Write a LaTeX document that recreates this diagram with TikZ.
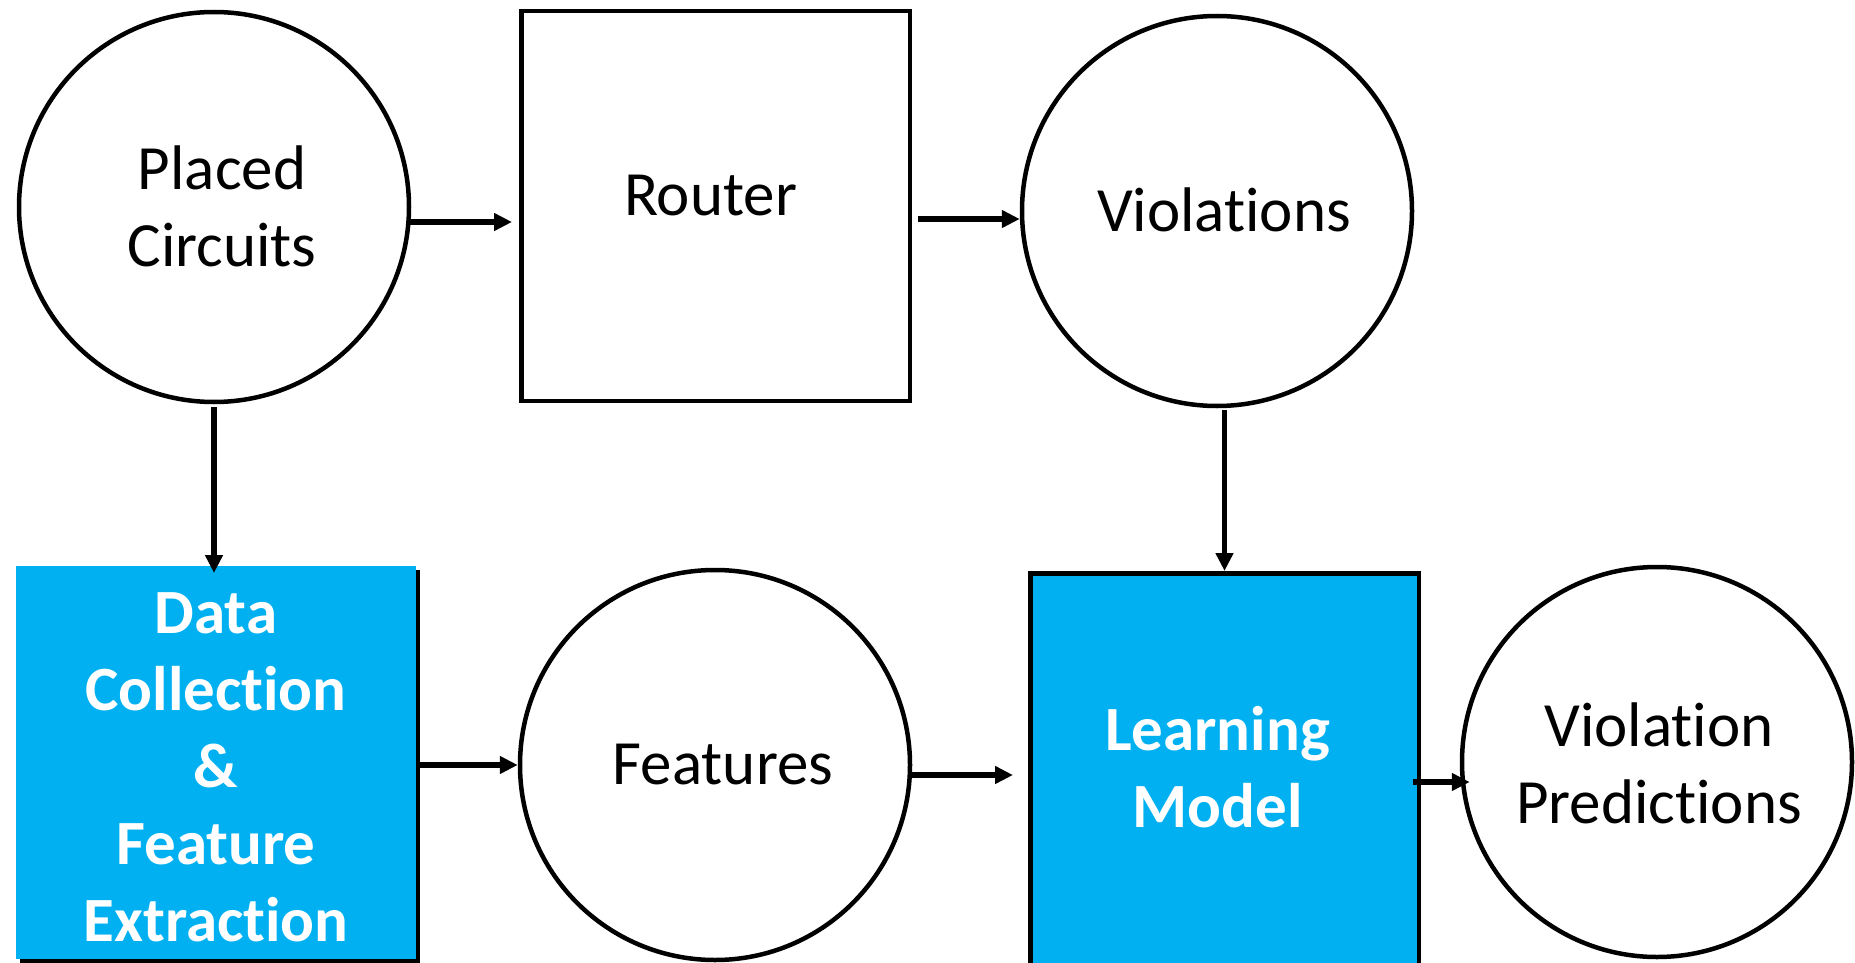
\documentclass[tikz,border=0pt]{standalone}
\usepackage{fontspec}
\setmainfont{Carlito}[Ligatures=NoCommon]
\usetikzlibrary{arrows.meta,calc,shadows}

\definecolor{boxblue}{HTML}{00B0F0}

\tikzset{
  txt/.style={font=\fontsize{63}{77}\selectfont, align=center},
  blob/.style={txt, circle, draw=black, line width=4.5pt, fill=white,
               minimum size=390pt, inner sep=0pt},
  plainbox/.style={txt, rectangle, draw=black, line width=4.5pt, fill=white,
                   minimum width=388.5pt, minimum height=389.5pt, inner sep=0pt},
  bluebox/.style={rectangle, fill=boxblue, inner sep=0pt, outer sep=0pt},
  whitetxt/.style={txt, text=white, font=\fontsize{63}{77}\selectfont\bfseries},
  arr/.style={line width=5.5pt, -{Triangle[length=18pt,width=17pt]}},
}

\begin{document}
\begin{tikzpicture}[x=1pt, y=-1pt]
  \clip (0,0) rectangle (1855,963);
  \fill[white] (0,0) rectangle (1855,963);

  % upper row
  \node[blob, label={[txt, xshift=8pt, yshift=1pt]center:{Placed\\Circuits}}]
        (pc) at (214,207) {};
  \node[plainbox, label={[txt, xshift=-5pt, yshift=10pt]center:{Router}}]
        (rt) at (715.5,206) {};
  \node[blob, label={[txt, xshift=7pt, yshift=1pt]center:{Violations}}]
        (vi) at (1217,211) {};

  % lower row
  \node[bluebox, minimum width=400pt, minimum height=393pt,
        drop shadow={shadow xshift=3.5pt, shadow yshift=-3.5pt, fill=black, opacity=1},
        label={[whitetxt, yshift=-5pt]center:{Data\\Collection\\\&\\Feature\\Extraction}}]
        (dc) at (216,762.5) {};
  \node[blob, label={[txt, xshift=8pt]center:{Features}}]
        (fe) at (715,765) {};
  \node[rectangle, draw=black, line width=4.5pt, fill=boxblue, inner sep=0pt,
        minimum width=388.5pt, minimum height=426pt,
        label={[whitetxt, xshift=-7pt, yshift=19pt]center:{Learning\\Model}}]
        (lm) at (1224.5,786.25) {};
  \node[blob, label={[txt, xshift=2pt, yshift=-1pt]center:{Violation\\Predictions}}]
        (vp) at (1657,762) {};

  % connectors
  \draw[arr] ($(pc.east)+(-1,15)$) -- ($(rt.west |- pc.east)+(-7,15)$);
  \draw[arr] ($(rt.east)+(6,13)$) -- ($(vi.west)+(0,8)$);
  \draw[arr] ($(pc.south)+(0,3)$) -- ($(pc.south |- dc.north)+(0,7)$);
  \draw[arr] ($(dc.east |- fe.west)+(3,0)$) -- (fe.west);
  \draw[arr] ($(fe.east)+(-1,10)$) -- ($(lm.west |- fe.east)+(-15,10)$);
  \draw[arr] ($(vi.south -| lm.north)+(0,2)$) -- (lm.north);
  \draw[arr] ($(lm.east |- vp.west)+(-8,20)$) -- ($(vp.west)+(10,20)$);
\end{tikzpicture}
\end{document}
